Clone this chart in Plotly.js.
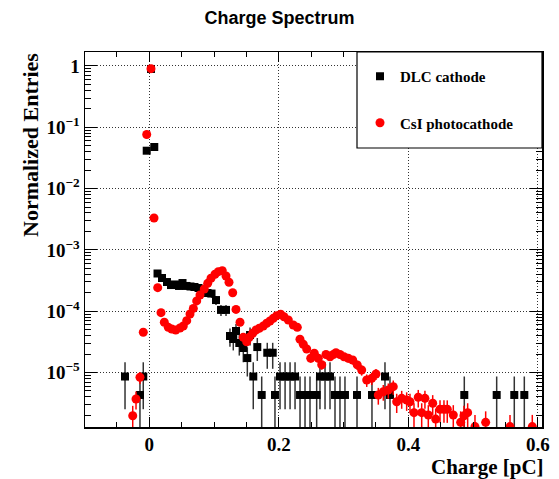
<!DOCTYPE html>
<html><head><meta charset="utf-8">
<script src="https://cdn.plot.ly/plotly-3.0.1.min.js"></script>
<style>html,body{margin:0;padding:0;background:#fff}</style>
</head><body><div id="chart" style="width:559px;height:479px"></div>
<script>
// DLC cathode (black squares)
const dlcX = [-0.0375,-0.0144,-0.0093,-0.0040,0.0026,0.0077,0.0127,0.0196,0.0273,0.0335,0.0397,0.0459,0.0513,0.0575,0.0636,0.0698,0.0760,0.0829,0.0899,0.0961,0.1030,0.1107,0.1185,0.1246,0.1297,0.1339,0.1390,0.1452,0.1514,0.1556,0.1606,0.1668,0.1736,0.1822,0.1906,0.1941,0.2019,0.2097,0.2174,0.2251,0.2328,0.2405,0.2482,0.2585,0.2636,0.2714,0.2791,0.2868,0.2945,0.3022,0.3208,0.3439,0.3640,0.3717,0.4865,0.5365,0.5637,0.5792];
const dlcY = [8.6e-6,4.3e-6,8.6e-6,0.0415,0.894,0.0477,4.12e-4,3.48e-4,2.99e-4,2.67e-4,2.73e-4,2.58e-4,2.88e-4,2.58e-4,2.53e-4,2.48e-4,2.39e-4,2.14e-4,1.98e-4,1.94e-4,1.52e-4,1.05e-4,1.05e-4,3.94e-5,3.52e-5,4.75e-5,3.03e-5,2.51e-5,1.72e-5,4.09e-5,8.6e-6,2.6e-5,4.3e-6,2.1e-5,2.1e-5,4.3e-6,8.6e-6,8.6e-6,8.6e-6,8.6e-6,4.3e-6,4.3e-6,4.3e-6,4.3e-6,8.6e-6,8.6e-6,8.6e-6,4.3e-6,4.3e-6,4.3e-6,4.3e-6,4.3e-6,8.6e-6,4.3e-6,4.3e-6,4.3e-6,4.3e-6,4.3e-6];

// CsI photocathode (red circles)
const csiX = [-0.0256,-0.0205,-0.0144,-0.0093,-0.0040,0.0026,0.0073,0.0130,0.0181,0.0232,0.0293,0.0346,0.0408,0.0474,0.0525,0.0578,0.0629,0.0680,0.0732,0.0783,0.0849,0.0902,0.0953,0.1015,0.1066,0.1127,0.1185,0.1231,0.1288,0.1339,0.1401,0.1452,0.1504,0.1544,0.1597,0.1648,0.1699,0.1761,0.1813,0.1864,0.1915,0.1968,0.2029,0.2080,0.2147,0.2224,0.2286,0.2327,0.2378,0.2431,0.2493,0.2548,0.2610,0.2663,0.2729,0.2791,0.2842,0.2883,0.2945,0.3007,0.3073,0.3141,0.3212,0.3280,0.3358,0.3435,0.3501,0.3537,0.3614,0.3691,0.3768,0.3821,0.3898,0.3975,0.4026,0.4088,0.4154,0.4207,0.4257,0.4309,0.4377,0.4423,0.4490,0.4551,0.4602,0.4695,0.4809,0.4860,0.4917,0.5030,0.5195,0.5571,0.5915];
const csiY = [1.97e-6,3.7e-6,8.35e-6,4.53e-5,0.0763,0.904,3.31e-3,2.42e-4,9.46e-5,6.6e-5,5.46e-5,5.13e-5,4.93e-5,5.32e-5,5.74e-5,7.0e-5,9.0e-5,1.11e-4,1.47e-4,1.84e-4,2.30e-4,2.85e-4,3.44e-4,4.0e-4,4.41e-4,4.58e-4,3.75e-4,2.96e-4,2.0e-4,1.07e-4,6.6e-5,3.75e-5,3.18e-5,3.75e-5,4.36e-5,4.93e-5,5.26e-5,5.74e-5,6.35e-5,6.92e-5,7.65e-5,8.45e-5,8.9e-5,8.13e-5,7.18e-5,5.95e-5,5.46e-5,3.48e-5,2.89e-5,2.42e-5,1.71e-5,2.06e-5,1.71e-5,1.34e-5,1.97e-5,1.81e-5,1.97e-5,2.1e-5,1.97e-5,1.81e-5,1.71e-5,1.6e-5,1.33e-5,1.1e-5,7.55e-6,8.04e-6,9.46e-6,4.3e-6,4.86e-6,5.18e-6,5.87e-6,3.34e-6,3.79e-6,3.56e-6,3.34e-6,2.21e-6,3.94e-6,2.21e-6,3.79e-6,2.03e-6,3.15e-6,1.74e-6,2.51e-6,2.51e-6,2.51e-6,2.03e-6,1.54e-6,1.97e-6,2.21e-6,1.31e-6,1.54e-6,1.31e-6,1.31e-6];

// weight of a single entry in each normalized histogram (Poisson errors)
const dlcUnit = 4.3e-6;
const csiUnit = 4.0e-7;

const xTickVals = [0, 0.2, 0.4, 0.6];
const xTickText = ['0', '0.2', '0.4', '0.6'];
const yTickVals = [1, 1e-1, 1e-2, 1e-3, 1e-4, 1e-5];
const yTickText = ['1', '10<sup>\u22121</sup>', '10<sup>\u22122</sup>', '10<sup>\u22123</sup>', '10<sup>\u22124</sup>', '10<sup>\u22125</sup>'];

const serif = 'Liberation Serif, Times New Roman, serif';

const traces = [
  {
    x: dlcX, y: dlcY, type: 'scatter', mode: 'markers', name: 'DLC cathode',
    legendgroup: 'a', cliponaxis: true,
    marker: {symbol: 'square', size: 8, color: '#000'},
    error_y: {type: 'data', array: dlcY.map(v => Math.sqrt(v * dlcUnit)), color: '#333', thickness: 1.5, width: 0}
  },
  {
    x: csiX, y: csiY, type: 'scatter', mode: 'markers', name: 'CsI photocathode',
    legendgroup: 'b', cliponaxis: true,
    marker: {symbol: 'circle', size: 9, color: '#ff0000'},
    error_y: {type: 'data', array: csiY.map(v => Math.sqrt(v * csiUnit)), color: '#ff0000', thickness: 1.5, width: 0}
  }
];

const L = 85, R = 542, T = 52, B = 427;
const pw = R - L, ph = B - T;

const layout = {
  width: 559, height: 479,
  margin: {l: L, r: 559 - R, t: T, b: 479 - B, pad: 0},
  paper_bgcolor: '#fff', plot_bgcolor: '#fff',
  showlegend: true,
  title: {
    text: 'Charge Spectrum',
    font: {family: 'Liberation Sans, Arial, sans-serif', size: 18, weight: 'bold', color: '#000'},
    x: 0.5, xref: 'container', xanchor: 'center',
    y: 1 - 18 / 479, yref: 'container', yanchor: 'middle'
  },
  xaxis: {
    range: [-0.0993, 0.6065],
    tickmode: 'array', tickvals: xTickVals, ticktext: xTickText,
    ticks: 'inside', ticklen: 10, tickwidth: 1, tickcolor: '#000',
    showline: true, linecolor: '#000', linewidth: 1.5, mirror: 'allticks',
    showgrid: true, gridcolor: '#333', griddash: '1px,2px', gridwidth: 1,
    zeroline: false,
    minor: {tick0: 0, dtick: 0.05, ticks: 'inside', ticklen: 5, tickcolor: '#000', showgrid: false},
    tickfont: {family: serif, size: 19, weight: 'bold', color: '#000'}
  },
  yaxis: {
    type: 'log', range: [-5.889, 0.228],
    tickmode: 'array', tickvals: yTickVals, ticktext: yTickText,
    ticks: 'inside', ticklen: 12, tickwidth: 1, tickcolor: '#000',
    showline: true, linecolor: '#000', linewidth: 1.5, mirror: 'allticks',
    showgrid: true, gridcolor: '#333', griddash: '1px,2px', gridwidth: 1,
    zeroline: false,
    minor: {dtick: 'D1', ticks: 'inside', ticklen: 6, tickcolor: '#000', showgrid: false},
    tickfont: {family: serif, size: 19, weight: 'bold', color: '#000'}
  },
  legend: {
    x: (360 - L) / pw, y: 1 - 8 / ph, xanchor: 'left', yanchor: 'top',
    bgcolor: 'rgba(0,0,0,0)', borderwidth: 0,
    font: {family: serif, size: 15, weight: 'bold', color: '#000'},
    tracegroupgap: 24
  },
  shapes: [
    {type: 'rect', xref: 'paper', yref: 'paper', x0: (357 - L) / pw, x1: 1, y0: (B - 148) / ph, y1: 1,
     fillcolor: '#fff', line: {color: '#000', width: 1.2}, layer: 'above'}
  ],
  annotations: [
    {text: 'Normalized Entries', textangle: -90, xref: 'paper', yref: 'paper',
     x: (30 - L) / pw, y: (B - 145) / ph, xanchor: 'center', yanchor: 'middle', showarrow: false,
     font: {family: serif, size: 22, weight: 'bold', color: '#000'}},
    {text: 'Charge [pC]', xref: 'paper', yref: 'paper',
     x: (546 - L) / pw, y: (B - 467) / ph, xanchor: 'right', yanchor: 'middle', showarrow: false,
     font: {family: serif, size: 21, weight: 'bold', color: '#000'}}
  ]
};

Plotly.newPlot('chart', traces, layout, {displayModeBar: false, staticPlot: true});
</script></body></html>
